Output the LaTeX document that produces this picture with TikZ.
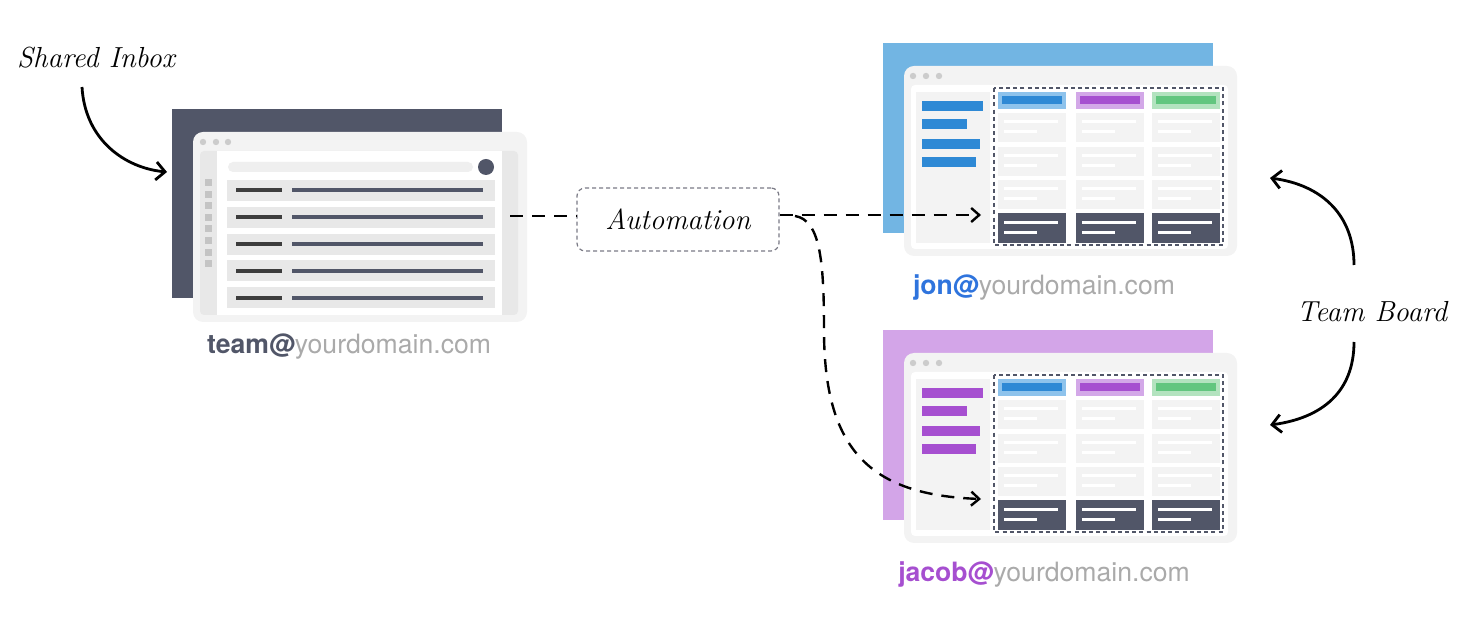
\documentclass[tikz,border=0pt]{standalone}
\usepackage{fontspec}
\newfontfamily\mailfont{TeX Gyre Heros}
\usetikzlibrary{positioning, calc, arrows.meta}

\definecolor{inkgray}{HTML}{515668}
\definecolor{winbg}{HTML}{F3F3F3}
\definecolor{rowgray}{HTML}{E8E8E8}
\definecolor{sqgray}{HTML}{C4C4C4}
\definecolor{dotgray}{HTML}{CCCCCC}
\definecolor{searchgray}{HTML}{EFEFEF}
\definecolor{linedark}{HTML}{3D3D3D}
\definecolor{domaingray}{HTML}{AAAAAA}
\definecolor{blueback}{HTML}{72B5E3}
\definecolor{purpleback}{HTML}{D3A5E8}
\definecolor{boardblue}{HTML}{2E89D5}
\definecolor{boardpurple}{HTML}{A64FD0}
\definecolor{boardgreen}{HTML}{62C67F}
\definecolor{headblue}{HTML}{8EC3EC}
\definecolor{headpurple}{HTML}{D3A8E8}
\definecolor{headgreen}{HTML}{B3E3BF}
\definecolor{jonblue}{HTML}{2F74DD}
\definecolor{boxgray}{HTML}{7A7A85}

\tikzset{
  hand/.style={font=\fontsize{14.5}{17}\selectfont\itshape},
  mail/.style={font=\mailfont\fontsize{13.3}{16}\selectfont, text=domaingray},
  autobox/.style={draw=boxgray, line width=0.6pt, dash pattern=on 2pt off 1.5pt,
    rounded corners=4pt, minimum width=101pt, minimum height=31.5pt, hand},
  pen/.style={line width=1.4pt, -{Straight Barb[length=4.5pt,width=9pt]}},
  flow/.style={line width=1.2pt, dash pattern=on 6.5pt off 4.5pt,
    -{Straight Barb[length=4pt,width=7pt]}},
}

\begin{document}
\begin{tikzpicture}[x=0.5pt, y=-0.5pt]

\useasboundingbox (0,0) rectangle (1462,624);

% shared inbox window
\fill[inkgray] (172,109) rectangle (502,298);
\fill[winbg, rounded corners=5pt] (193,132) rectangle (527,322);
\foreach \x in {203,216,228}
  \fill[dotgray] (\x,142) circle (1.6pt);
\fill[rowgray, rounded corners=2pt] (200,151) rectangle (518,315);
\fill[white] (217,151) rectangle (502,315);
\foreach \i in {0,...,7}
  \fill[sqgray] (205,179+\i*11.6) rectangle ++(7,7);
\fill[searchgray, rounded corners=2.5pt] (228,162) rectangle (473,172);
\fill[inkgray] (486,167) circle (4pt);
\foreach \i in {0,...,4} {
  \fill[rowgray] (227,180+\i*26.8) rectangle ++(268,21);
  \draw[linedark, line width=2pt] (236,190.5+\i*26.8) -- (282,190.5+\i*26.8);
  \draw[inkgray, line width=2pt] (292,190.5+\i*26.8) -- (483,190.5+\i*26.8);
}
\node[mail] (teammail) at (349,347) {\textbf{\color{inkgray}team@}yourdomain.com};

% team boards
\foreach \dy/\back/\bar/\name/\txt in {0/blueback/boardblue/jon/jonblue, 287/purpleback/boardpurple/jacob/boardpurple} {
  \begin{scope}[shift={(0,\dy)}]
    \fill[\back] (883,43) rectangle (1213,233);
    \fill[winbg, rounded corners=5pt] (904,66) rectangle (1237,256);
    \foreach \x in {913,926,939}
      \fill[dotgray] (\x,76) circle (1.6pt);
    \fill[white, rounded corners=2pt] (911,85) rectangle (1228,249);
    \fill[winbg] (916,92) rectangle (990,243);
    \foreach \y/\w in {106/983, 124/967, 144/980, 162/976}
      \fill[\bar] (922,\y-5) rectangle (\w,\y+5);
    \foreach \cx/\hl/\hd in {998/headblue/boardblue, 1076/headpurple/boardpurple, 1152/headgreen/boardgreen} {
      \fill[\hl] (\cx,92) rectangle ++(68,17);
      \fill[\hd] (\cx+4,96) rectangle ++(60,8);
      \foreach \cy in {113,147,180} {
        \fill[winbg] (\cx,\cy) rectangle ++(68,29);
        \fill[white] (\cx+6,\cy+7) rectangle ++(54,3);
        \fill[white] (\cx+6,\cy+17) rectangle ++(33,3);
      }
      \fill[inkgray] (\cx,213) rectangle ++(68,30);
      \fill[white] (\cx+6,221) rectangle ++(54,3);
      \fill[white] (\cx+6,231) rectangle ++(33,3);
    }
    \draw[inkgray, line width=1.2pt, dash pattern=on 2pt off 1.6pt] (994,88) rectangle (1223,245);
    \node[mail] (\name mail) at (1044,287) {\textbf{\color{\txt}\name@}yourdomain.com};
  \end{scope}
}

% labels
\node[hand] (inboxlabel) at (96,58) {Shared Inbox};
\node[hand] (boardlabel) at (1372,312) {Team Board};
\node[autobox] (auto) at (678,219.5) {Automation};

\coordinate (inboxin)  at (167,172);
\coordinate (inboxtail) at (82,87);
\coordinate (inboxout) at (510,216);
\coordinate (split)    at (795,216);
\coordinate (jonin)    at (981,215);
\coordinate (jacobin)  at (981,499);
\coordinate (boardup)  at (1354,265);
\coordinate (boarddn)  at (1354,342);
\coordinate (jonside)  at (1270,178);
\coordinate (jacobside) at (1270,425);

% hand drawn arrows
\draw[pen] (inboxtail) .. controls (85,140) and (125,168) .. (inboxin);
\draw[pen] (boardup) .. controls (1354,215) and (1322,185) .. (jonside);
\draw[pen] (boarddn) .. controls (1354,392) and (1322,418) .. (jacobside);

% automation flow
\draw[flow, -] (inboxout) -- (auto.west |- inboxout);
\draw[flow] (auto.east |- jonin) -- (jonin);
\draw[flow] (split) .. controls (820,220) and (824,260) .. (824,330)
  .. controls (824,450) and (870,495) .. (jacobin);

\end{tikzpicture}
\end{document}
